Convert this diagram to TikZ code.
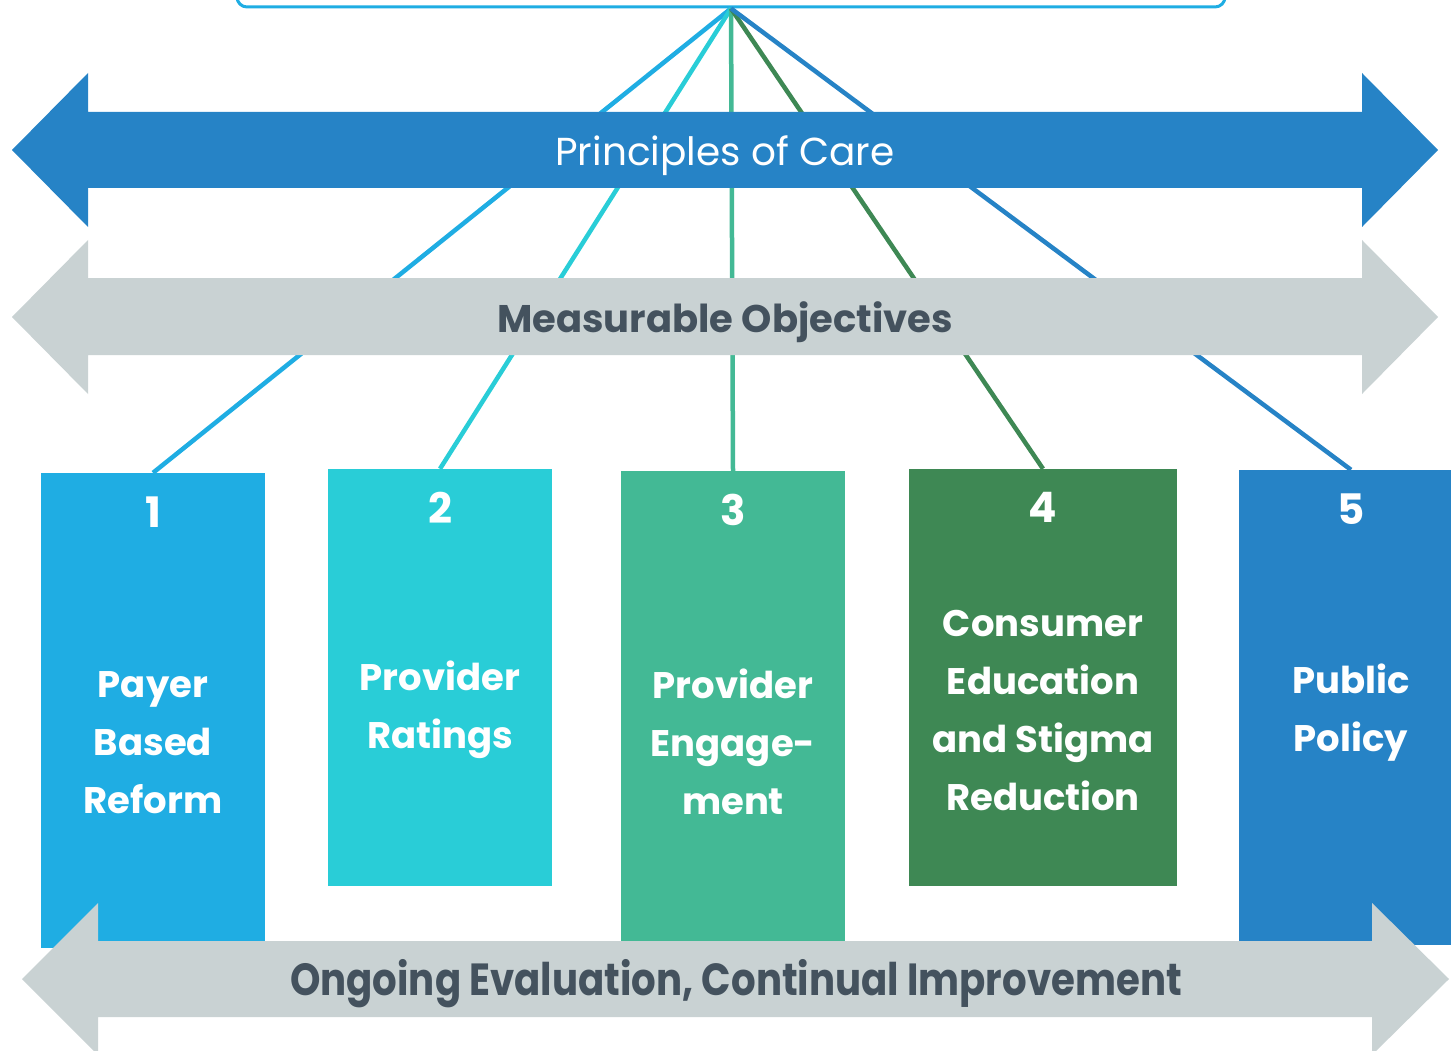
\documentclass[tikz,border=0pt]{standalone}
\usepackage{fontspec}
\setmainfont{Poppins}
\newfontfamily\condfont{Poppins}[FakeStretch=0.86]
\usepackage{tikz}
\usetikzlibrary{positioning,calc}
\definecolor{pillarone}{RGB}{31,173,227}
\definecolor{pillartwo}{RGB}{41,205,215}
\definecolor{pillarthree}{RGB}{67,185,149}
\definecolor{pillarfour}{RGB}{62,136,84}
\definecolor{pillarfive}{RGB}{38,131,198}
\definecolor{bandgray}{RGB}{201,210,211}
\definecolor{bandtext}{RGB}{68,82,94}

\begin{document}
\begin{tikzpicture}[
    x=1pt, y=-1pt,
    pillar/.style={rectangle, inner sep=0pt, minimum width=224pt, minimum height=475pt},
    num/.style={text=white, font=\fontsize{42}{42}\selectfont\bfseries},
    pillartext/.style={text=white, align=center, font=\fontsize{37}{58}\selectfont\bfseries},
    spoke/.style={line width=4.5pt}
]
    \useasboundingbox (0,0) rectangle (1451,1051);
    \clip (0,0) rectangle (1451,1051);

    % goal box, cut by the top edge
    \node[draw=pillarone, line width=3pt, rounded corners=10pt, minimum width=988pt, minimum height=34pt] (goal) at (731,-10) {};

    % pillars
    \node[pillar, fill=pillarone] (b1) at (153,710.5) {};
    \node[pillar, fill=pillartwo, minimum height=417pt] (b2) at (440,677.5) {};
    \node[pillar, fill=pillarthree, minimum height=474pt] (b3) at (733,708) {};
    \node[pillar, fill=pillarfour, minimum width=268pt, minimum height=417pt] (b4) at (1043,677.5) {};
    \node[pillar, fill=pillarfive] (b5) at (1351,707.5) {};

    % spokes
    \draw[spoke, pillarone] (goal.south) -- (b1.north);
    \draw[spoke, pillartwo] (goal.south) -- (b2.north);
    \draw[spoke, pillarthree] (goal.south) -- (b3.north);
    \draw[spoke, pillarfour] (goal.south) -- (b4.north);
    \draw[spoke, pillarfive] (goal.south) -- (b5.north);

    % bands
    \fill[pillarfive] (12,150) -- (88,73) -- (88,112) -- (1362,112) -- (1362,73) -- (1438,150)
        -- (1362,227) -- (1362,188) -- (88,188) -- (88,227) -- cycle;
    \node[text=white, font=\fontsize{39}{39}\selectfont] (care) at (725,156) {Principles of Care};

    \fill[bandgray] (12,317) -- (88,240) -- (88,278) -- (1362,278) -- (1362,240) -- (1438,317)
        -- (1362,394) -- (1362,355) -- (88,355) -- (88,394) -- cycle;
    \node[text=bandtext, font=\fontsize{38.5}{38.5}\selectfont\bfseries] (objectives) at (725,322) {Measurable Objectives};

    % pillar labels
    \node[num] (n1) at ([yshift=-39pt]b1.north) {1};
    \node[num] (n2) at ([yshift=-39pt]b2.north) {2};
    \node[num] (n3) at ([yshift=-39pt]b3.north) {3};
    \node[num] (n4) at ([yshift=-39pt]b4.north) {4};
    \node[num] (n5) at ([yshift=-39pt]b5.north) {5};

    \node[pillartext] (t1) at (153,743) {Payer\\Based\\Reform};
    \node[pillartext] (t2) at (440,710) {Provider\\Ratings};
    \node[pillartext] (t3) at (733,742) {Provider\\Engage-\\ment};
    \node[pillartext] (t4) at (1043,711) {Consumer\\Education\\and Stigma\\Reduction};
    \node[pillartext] (t5) at (1351,713) {Public\\Policy};

    \fill[bandgray] (22,979) -- (98,903) -- (98,941) -- (1372,941) -- (1372,903) -- (1449,979)
        -- (1372,1055) -- (1372,1017) -- (98,1017) -- (98,1055) -- cycle;
    \node[text=bandtext, font=\condfont\fontsize{45}{45}\selectfont\bfseries] (evaluation) at (736,984) {Ongoing Evaluation, Continual Improvement};
\end{tikzpicture}
\end{document}
